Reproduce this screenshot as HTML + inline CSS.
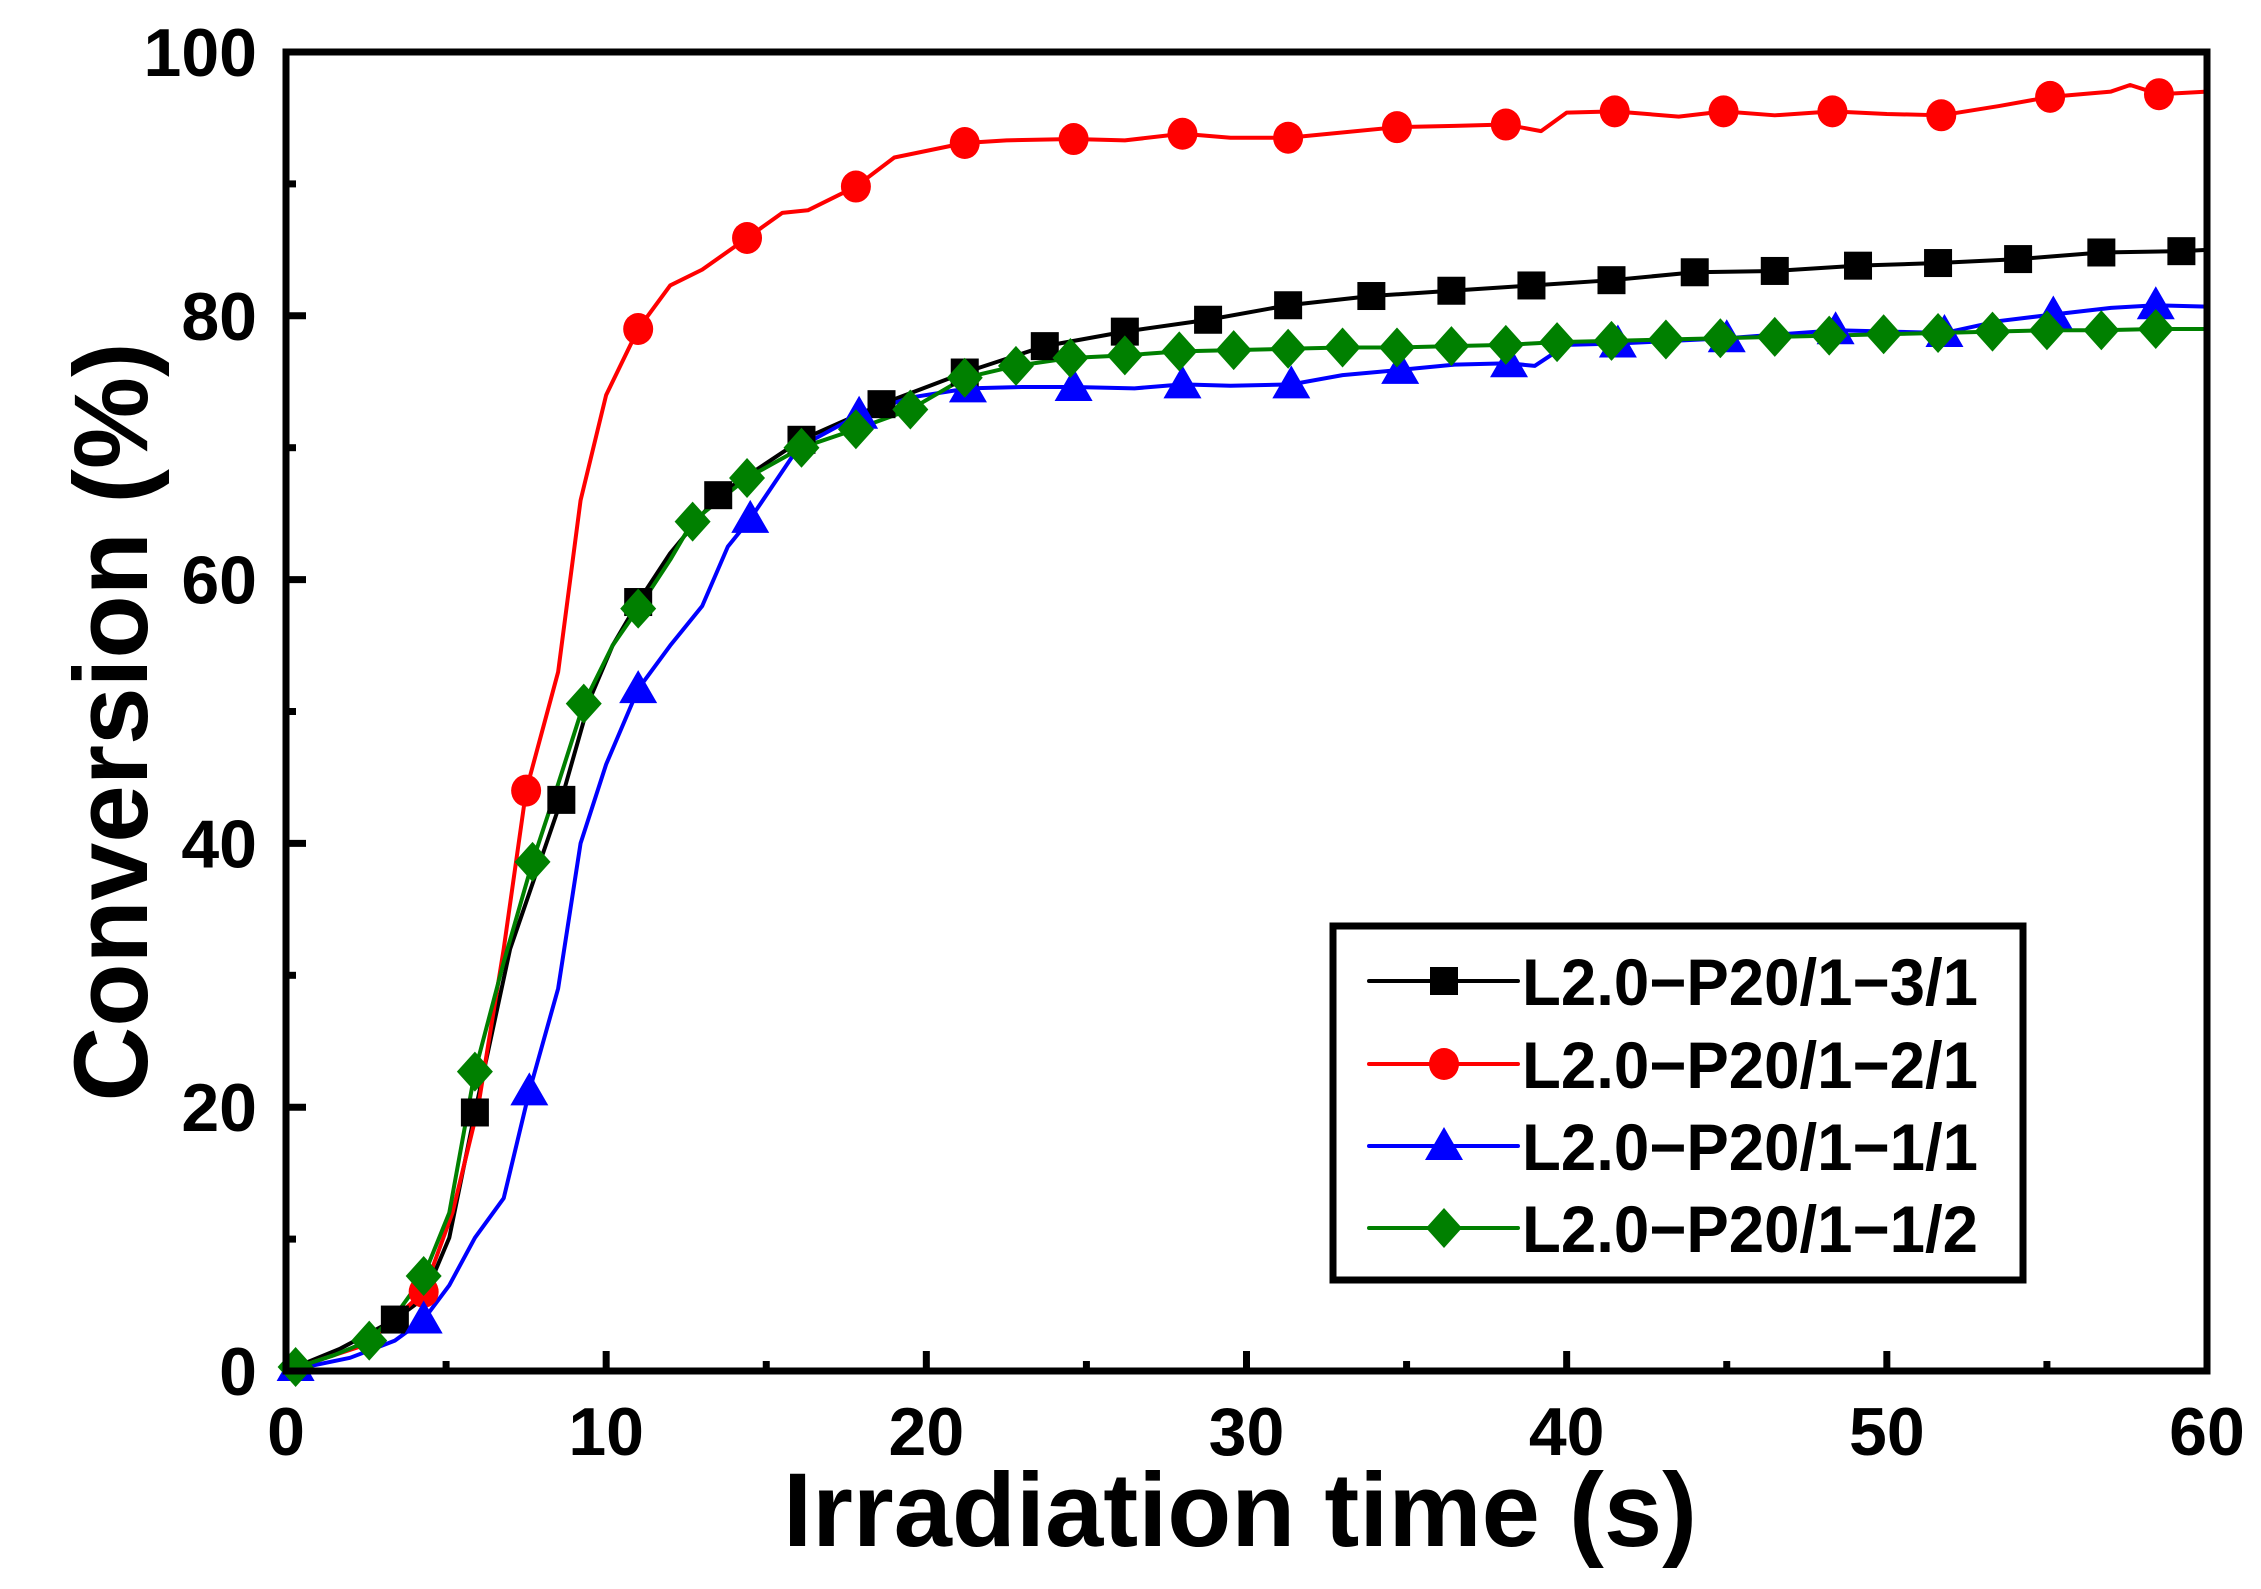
<!DOCTYPE html>
<html><head><meta charset="utf-8"><style>html,body{margin:0;padding:0;background:#fff}svg{display:block}</style></head>
<body>
<svg id="s" width="2261" height="1589" viewBox="0 0 2261 1589" xmlns="http://www.w3.org/2000/svg" font-family="'Liberation Sans',Arial,sans-serif" font-weight="bold">
<rect width="2261" height="1589" fill="#fff"/>
<g id="data"></g>
<g id="axes" fill="none" stroke="#000" stroke-width="7"></g>
<g id="lbl" font-size="68" fill="#000"></g>
<text x="1240" y="1546" font-size="105" text-anchor="middle" textLength="914" lengthAdjust="spacingAndGlyphs">Irradiation time (s)</text>
<text transform="translate(147,722) rotate(-90)" font-size="105" text-anchor="middle" textLength="759" lengthAdjust="spacingAndGlyphs">Conversion (%)</text>
<rect x="1333" y="926" width="690" height="354" fill="#fff" stroke="#000" stroke-width="7"/>
<g id="leg"></g>
</svg>
<script>
var L=286,R=2207,T=52,B=1371;
function X(x){return L+x*(R-L)/60}function Y(y){return B-y*(B-T)/100}
var NS="http://www.w3.org/2000/svg";
function el(p,n,a){var e=document.createElementNS(NS,n);for(var k in a)e.setAttribute(k,a[k]);p.appendChild(e);return e}
var ax=document.getElementById('axes'),lb=document.getElementById('lbl');
for(var i=0;i<=6;i++){var x=X(i*10);el(ax,'line',{x1:x,y1:B,x2:x,y2:B-20});var t=el(lb,'text',{x:x,y:1455,'text-anchor':'middle'});t.textContent=i*10;
 if(i<6){var xm=X(i*10+5);el(ax,'line',{x1:xm,y1:B,x2:xm,y2:B-10});}}
for(var i=0;i<=5;i++){var y=Y(i*20);el(ax,'line',{x1:L,y1:y,x2:L+20,y2:y});var t=el(lb,'text',{x:257,y:y+24,'text-anchor':'end'});t.textContent=i*20;
 if(i<5){var ym=Y(i*20+10);el(ax,'line',{x1:L,y1:ym,x2:L+10,y2:ym});}}
el(ax,'rect',{x:L,y:T,width:R-L,height:B-T});
var black=[[0,0],[1.7,1.7],[3.4,3.9],[4.3,5.5],[5.1,10.1],[5.9,19.6],[7,32],[8.6,43.3],[9.5,51],[10.2,55],[11,58.3],[12,62],[13.5,66.4],[16.1,70.6],[18.6,73.3],[21.2,75.7],[23.7,77.7],[26.2,78.8],[28.8,79.7],[31.3,80.8],[33.9,81.5],[36.4,81.9],[38.9,82.3],[41.4,82.7],[44,83.3],[46.5,83.4],[49.1,83.8],[51.6,84],[54.1,84.3],[56.7,84.8],[59.2,84.9],[60,85]];
var blackM=black.filter(function(p){return p[0]>3&&[4.3,5.1,7,9.5,10.2,12,60].indexOf(p[0])<0});
var red=[[0,0],[2.5,2],[4.3,6],[5.2,12],[6,20],[6.8,32],[7.5,44],[8.5,53],[9.2,66],[10,74],[11,79],[12,82.3],[13,83.5],[14.4,85.9],[15.5,87.8],[16.3,88],[17.8,89.8],[19,92],[21.2,93.1],[22.5,93.3],[24.6,93.4],[26.2,93.3],[28,93.8],[29.5,93.5],[31.3,93.5],[34.7,94.3],[36.5,94.4],[38.1,94.5],[39.2,94],[40,95.4],[41.5,95.5],[43.5,95.1],[44.9,95.5],[46.5,95.2],[48.3,95.5],[50,95.3],[51.7,95.2],[53.5,95.9],[55.1,96.6],[57,97],[57.6,97.5],[58.5,96.8],[60,97]];
var redM=[4.3,7.5,11,14.4,17.8,21.2,24.6,28,31.3,34.7,38.1,41.5,44.9,48.3,51.7,55.1,58.5];
var blue=[[0,0],[2,1],[3.4,2.3],[4.3,3.9],[5.1,6.5],[5.9,10.1],[6.8,13.1],[7.6,21.2],[8.5,29],[9.2,40],[10,46],[11,51.7],[12,55],[13,58],[13.8,62.5],[14.5,64.6],[16,70],[17.9,72.5],[19.5,73.8],[21.3,74.5],[23,74.6],[24.6,74.6],[26.5,74.5],[28,74.8],[29.5,74.7],[31.4,74.8],[33,75.5],[34.8,75.9],[36.5,76.3],[38.2,76.4],[39,76.2],[40,77.8],[41.6,77.9],[45,78.3],[48.4,78.9],[51.8,78.7],[53.5,79.6],[55.2,80.1],[57,80.6],[58.4,80.8],[60,80.7]];
var blueM=[4.3,7.6,11,14.5,17.9,21.3,24.6,28,31.4,34.8,38.2,41.6,45,48.4,51.8,55.2,58.4];
var green=[[0,0],[1.5,1.2],[2.6,2.3],[3.5,4.5],[4.3,7.2],[5.1,12],[5.9,22.7],[6.8,31],[7.7,38.6],[8.5,44.5],[9.3,50.6],[10.2,55],[11,57.8],[12,61.5],[12.7,64.4],[14.4,67.7],[16.1,70],[17.8,71.4],[19.5,72.9],[21.2,75.3],[22.8,76.2],[24.5,76.8],[26.2,77],[27.9,77.3],[29.6,77.4],[31.3,77.5],[33,77.6],[34.7,77.6],[36.4,77.7],[38.1,77.8],[39.7,78],[41.4,78.1],[43.1,78.2],[44.8,78.3],[46.5,78.4],[48.2,78.5],[49.9,78.6],[51.6,78.7],[53.3,78.8],[55,78.9],[56.7,78.9],[58.4,79],[60,79]];
var greenM=green.filter(function(p){return p[0]>=2.5&&p[0]<=59&&[3.5,5.1,6.8,8.5,10.2,12].indexOf(p[0])<0});
function at(arr,x){for(var i=0;i<arr.length;i++)if(arr[i][0]==x)return arr[i][1];return 0}
var D=document.getElementById('data');
function line(arr,c){el(D,'polyline',{points:arr.map(function(p){return X(p[0])+','+Y(p[1])}).join(' '),fill:'none',stroke:c,'stroke-width':4,'stroke-linejoin':'round'})}
function mk(g,type,x,y,c){
 if(type=='s')el(g,'rect',{x:x-14,y:y-14,width:28,height:28,fill:c});
 else if(type=='c')el(g,'ellipse',{cx:x,cy:y,rx:15,ry:16,fill:c});
 else if(type=='t')el(g,'polygon',{points:(x)+','+(y-19)+' '+(x+19)+','+(y+14)+' '+(x-19)+','+(y+14),fill:c});
 else el(g,'polygon',{points:x+','+(y-20)+' '+(x+18)+','+y+' '+x+','+(y+20)+' '+(x-18)+','+y,fill:c});
}
line(black,'#000');line(red,'#f00');line(blue,'#00f');line(green,'#008000');
blackM.forEach(function(p){mk(D,'s',X(p[0]),Y(p[1]),'#000')});
redM.forEach(function(x){mk(D,'c',X(x),Y(at(red,x)),'#f00')});
blueM.forEach(function(x){mk(D,'t',X(x),Y(at(blue,x)),'#00f')});
greenM.forEach(function(p){mk(D,'d',X(p[0]),Y(p[1]),'#008000')});
mk(D,'t',X(0.3),Y(0.3),'#00f');mk(D,'d',X(0.3),Y(0.3),'#008000');
var G=document.getElementById('leg');
var rows=[['#000','s','L2.0\u2212P20/1\u22123/1',981],['#f00','c','L2.0\u2212P20/1\u22122/1',1064],['#00f','t','L2.0\u2212P20/1\u22121/1',1146],['#008000','d','L2.0\u2212P20/1\u22121/2',1228]];
rows.forEach(function(r){el(G,'line',{x1:1369,y1:r[3],x2:1518,y2:r[3],stroke:r[0],'stroke-width':4,'stroke-linecap':'round'});mk(G,r[1],1444,r[3],r[0]);
 var t=el(G,'text',{x:1522,y:r[3]+24,'font-size':66,textLength:456,lengthAdjust:'spacingAndGlyphs'});t.textContent=r[2];});
</script>
</body></html>
